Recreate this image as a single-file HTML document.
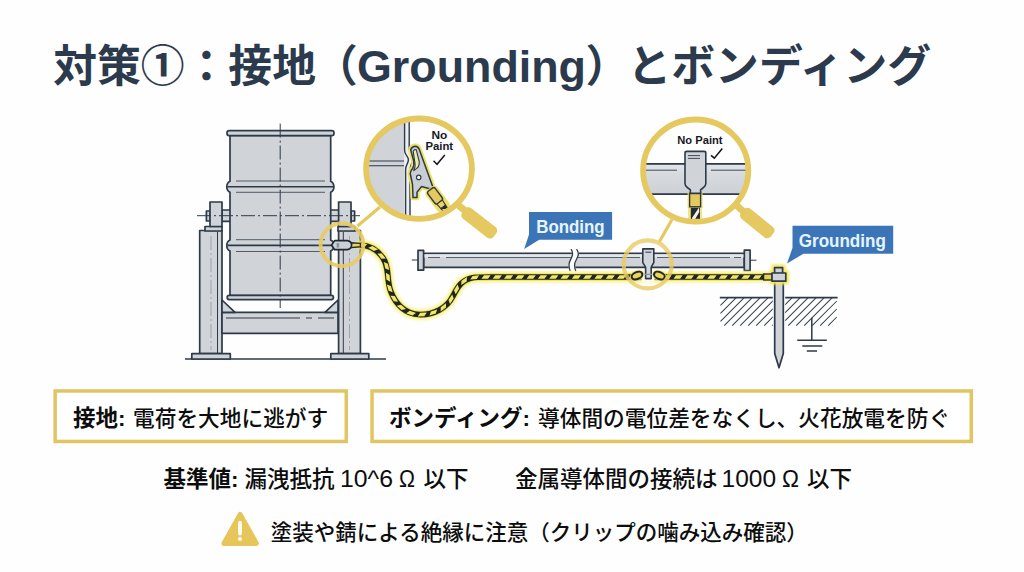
<!DOCTYPE html>
<html lang="ja">
<head>
<meta charset="utf-8">
<title>対策①：接地（Grounding）とボンディング</title>
<style>
html,body{margin:0;padding:0;background:#fefefe;}
body{width:1024px;height:572px;overflow:hidden;position:relative;font-family:"Liberation Sans",sans-serif;}
svg{position:absolute;left:0;top:0;display:block;}
svg text{font-family:"Liberation Sans","Noto Sans CJK JP",sans-serif;}
.sr{position:absolute;left:0;top:0;width:1px;height:1px;overflow:hidden;clip:rect(0 0 0 0);white-space:nowrap;font-size:1px;color:transparent;}
</style>
</head>
<body>
<div class="sr">
<h1>対策①：接地（Grounding）とボンディング</h1>
<p><b>接地:</b> 電荷を大地に逃がす</p>
<p><b>ボンディング:</b> 導体間の電位差をなくし、火花放電を防ぐ</p>
<p><b>基準値:</b> 漏洩抵抗 10^6 Ω 以下　金属導体間の接続は 1000 Ω 以下</p>
<p>塗装や錆による絶縁に注意（クリップの噛み込み確認）</p>
<p>Bonding / Grounding / No Paint</p>
</div>
<svg width="1024" height="572" viewBox="0 0 1024 572">
<rect width="1024" height="572" fill="#fefefe"/>
<g id="boxes">
<rect x="55.15" y="390.95" width="291.1" height="50.5" fill="#fff" stroke="#e1c562" stroke-width="3.5"/>
<rect x="372.05" y="390.95" width="599.2" height="50.5" fill="#fff" stroke="#e1c562" stroke-width="3.5"/>
<path d="M240.1 514.4 L256.4 543.4 L223.9 543.4 Z" fill="#e6c55a" stroke="#e6c55a" stroke-width="5" stroke-linejoin="round"/>
<path d="M240 522.8 L240 533.6" stroke="#fffdf2" stroke-width="3.9" stroke-linecap="round"/><circle cx="240" cy="539" r="2.1" fill="#fffdf2"/>
</g>
<g id="illustration">
<g id="stand" fill="#d0d3d7" stroke="#2d3a49" stroke-width="1.7" stroke-linejoin="round">
<path d="M185 359 H386" fill="none"/>
<rect x="199.7" y="230.5" width="22.3" height="123.2"/>
<rect x="338.6" y="230.5" width="21.8" height="123.2"/>
<rect x="191.8" y="353.7" width="38.5" height="5.3"/>
<rect x="330.8" y="353.7" width="38" height="5.3"/>
<rect x="222" y="312.3" width="116" height="21"/>
<path d="M222 300 L235 312.3 L222 312.3 Z"/>
<path d="M338 300 L325 312.3 L338 312.3 Z"/>
<rect x="205" y="226.5" width="17" height="4.5"/>
<rect x="338" y="226.5" width="17" height="4.5"/>
<rect x="222" y="210" width="9" height="11.4"/>
<rect x="330" y="210" width="9" height="11.4"/>
<rect x="206.4" y="211" width="4" height="10"/>
<rect x="351" y="211" width="3.6" height="10"/>
<rect x="210" y="202" width="12" height="24.5"/>
<rect x="338.6" y="202" width="12.4" height="24.5"/>
</g>
<path d="M217.5 232 V353 M343.3 232 V353 M226 318 H300 M306 318 H312 M318 318 H334" stroke="#2d3a49" stroke-width="1" fill="none"/>
<path d="M230.0 135.5 L230.0 181.3 Q226.8 182.8 226.8 186.8 Q226.8 190.8 230.0 192.3 L230.0 239.9 Q226.8 241.4 226.8 245.4 Q226.8 249.4 230.0 250.9 L230.0 295.5 L330.7 295.5 L330.7 250.9 Q333.9 249.4 333.9 245.4 Q333.9 241.4 330.7 239.9 L330.7 192.3 Q333.9 190.8 333.9 186.8 Q333.9 182.8 330.7 181.3 L330.7 135.5 Z" fill="#d0d3d7" stroke="#2d3a49" stroke-width="1.7" stroke-linejoin="round" stroke-width="1.9"/>
<rect x="227" y="130.6" width="107" height="5" rx="2.2" fill="#d0d3d7" stroke="#2d3a49" stroke-width="1.7" stroke-linejoin="round" stroke-width="1.9"/>
<rect x="227.2" y="295.3" width="106.2" height="4.3" rx="2" fill="#d0d3d7" stroke="#2d3a49" stroke-width="1.7" stroke-linejoin="round" stroke-width="1.9"/>
<path d="M227.5 186.8 H333.2 M227.5 245.4 H333.2" stroke="#2d3a49" stroke-width="1.6" fill="none"/>
<path d="M236 181 H325 M236 192.3 H325 M236 239.7 H325 M236 251.5 H325" stroke="#4a5562" stroke-width="0.95" fill="none"/>
<path d="M280.2 123.6 V308" stroke="#2d3a49" stroke-width="1" stroke-dasharray="14 3 2 3" fill="none"/>
<path d="M197 215.7 H360" stroke="#2d3a49" stroke-width="1" stroke-dasharray="14 3 2 3" fill="none"/>
<path d="M211 236 V350 M349.5 236 V350" stroke="#2d3a49" stroke-width="0.7" stroke-dasharray="14 3 2 3" fill="none" opacity="0.45"/>
<g id="pipe" fill="#d0d3d7" stroke="#2d3a49" stroke-width="1.7" stroke-linejoin="round">
<rect x="423.6" y="253.4" width="320.7" height="14"/>
<rect x="418" y="250.4" width="5.6" height="19.8"/>
<rect x="744.3" y="250.2" width="5.8" height="20.3"/>
</g>
<rect x="424.5" y="254.3" width="319" height="3.2" fill="#e3e6ea"/>
<path d="M428 257.5 H440 M446 257.5 H640 M657 257.5 H730 M734 257.5 H741" stroke="#2d3a49" stroke-width="0.9" fill="none" opacity="0.85"/>
<path d="M571.3 249.6 C572.6 251.5 572.9 253 572.3 255.5 C571.4 259 569 261 569 264.5 C569 267 569.4 269 570 270.6 L575.6 270.6 C575 269 574.6 267.4 574.6 265 C574.6 261.5 577.2 259 578.1 255.5 C578.7 253 578.3 251.5 576.9 249.6 Z" fill="#fefefe" stroke="#fefefe" stroke-width="1.2"/>
<path d="M571.3 249.6 C572.6 251.5 572.9 253 572.3 255.5 C571.4 259 569 261 569 264.5 C569 267 569.4 269 570 270.6 M576.9 249.6 C578.3 251.5 578.7 253 578.1 255.5 C577.2 259 574.6 261.5 574.6 265 C574.6 267.4 575 269 575.6 270.6" fill="none" stroke="#2d3a49" stroke-width="1.3" stroke-linecap="round"/>
<path d="M411.8 260 H418 M750 260.2 H756.5" stroke="#2d3a49" stroke-width="1" fill="none"/>
<filter id="gl" x="-5%" y="-30%" width="110%" height="160%"><feGaussianBlur stdDeviation="1.6"/></filter><filter id="gl2" x="-40%" y="-40%" width="180%" height="180%"><feGaussianBlur stdDeviation="1.1"/></filter>
<path d="M360.5 245 C369 245.4 377 249 383 258 C390 268 386 280 391 292 C396 305 406 314 419 314.5 C434 315 447 308 453 296 C458 286 462 279.5 474 277.5 C480 277 486 277 492 277 L766 277" fill="none" stroke="#f6ee6e" stroke-width="10.4" stroke-linecap="round" filter="url(#gl)" opacity="0.8"/>
<path d="M360.5 245 C369 245.4 377 249 383 258 C390 268 386 280 391 292 C396 305 406 314 419 314.5 C434 315 447 308 453 296 C458 286 462 279.5 474 277.5 C480 277 486 277 492 277 L766 277" fill="none" stroke="#e6dc52" stroke-width="6.8" stroke-linecap="round"/>
<path d="M360.5 245 C369 245.4 377 249 383 258 C390 268 386 280 391 292 C396 305 406 314 419 314.5 C434 315 447 308 453 296 C458 286 462 279.5 474 277.5 C480 277 486 277 492 277 L766 277" fill="none" stroke="#20261f" stroke-width="5.7" stroke-linecap="butt"/>
<path d="M357.7 246.4 L364.3 247.1 L367.3 243.9 L360.7 243.2ZM368.3 247.8 L374.0 251.1 L378.0 249.3 L372.3 246.0ZM377.4 253.4 L381.4 258.7 L385.8 258.6 L381.7 253.4ZM383.8 262.0 L385.3 268.4 L389.3 270.1 L387.8 263.7ZM385.9 272.8 L386.4 279.4 L390.1 281.7 L389.6 275.1ZM386.8 284.4 L388.6 290.8 L392.7 292.3 L390.9 286.0ZM390.4 295.7 L393.8 301.3 L398.1 301.8 L394.7 296.1ZM396.8 305.7 L401.7 310.1 L406.0 309.1 L401.0 304.8ZM406.2 313.3 L412.4 315.4 L416.0 312.9 L409.8 310.8ZM417.7 316.4 L424.3 316.2 L426.8 312.6 L420.2 312.8ZM429.5 315.6 L435.8 313.6 L437.2 309.4 L430.9 311.5ZM440.7 311.5 L446.0 307.6 L446.0 303.3 L440.7 307.2ZM450.0 304.1 L453.7 298.6 L452.2 294.5 L448.5 300.0ZM455.7 294.2 L459.1 288.6 L457.5 284.6 L454.0 290.2ZM461.2 285.1 L466.7 281.5 L467.0 277.1 L461.5 280.7ZM470.2 279.5 L476.8 279.0 L479.1 275.3 L472.6 275.9ZM481.4 278.8 L488.0 278.8 L490.6 275.2 L484.0 275.3ZM492.7 278.8 L499.3 278.8 L501.9 275.2 L495.3 275.2ZM504.0 278.8 L510.6 278.8 L513.2 275.2 L506.6 275.2ZM515.3 278.8 L521.9 278.8 L524.5 275.2 L517.9 275.2ZM526.6 278.8 L533.2 278.8 L535.8 275.2 L529.2 275.2ZM537.9 278.8 L544.5 278.8 L547.1 275.2 L540.5 275.2ZM549.2 278.8 L555.8 278.8 L558.4 275.2 L551.8 275.2ZM560.5 278.8 L567.1 278.8 L569.7 275.2 L563.1 275.2ZM571.8 278.8 L578.4 278.8 L581.0 275.2 L574.4 275.2ZM583.1 278.8 L589.7 278.8 L592.3 275.2 L585.7 275.2ZM594.4 278.8 L601.0 278.8 L603.6 275.2 L597.0 275.2ZM605.7 278.8 L612.3 278.8 L614.9 275.2 L608.3 275.2ZM617.0 278.8 L623.6 278.8 L626.2 275.2 L619.6 275.2ZM628.3 278.8 L634.9 278.8 L637.5 275.2 L630.9 275.2ZM639.6 278.8 L646.2 278.8 L648.8 275.2 L642.2 275.2ZM650.9 278.8 L657.5 278.8 L660.1 275.2 L653.5 275.2ZM662.2 278.8 L668.8 278.8 L671.4 275.2 L664.8 275.2ZM673.5 278.8 L680.1 278.8 L682.7 275.2 L676.1 275.2ZM684.8 278.8 L691.4 278.8 L694.0 275.2 L687.4 275.2ZM696.1 278.8 L702.7 278.8 L705.3 275.2 L698.7 275.2ZM707.4 278.8 L714.0 278.8 L716.6 275.2 L710.0 275.2ZM718.7 278.8 L725.3 278.8 L727.9 275.2 L721.3 275.2ZM730.0 278.8 L736.6 278.8 L739.2 275.2 L732.6 275.2ZM741.3 278.8 L747.9 278.8 L750.5 275.2 L743.9 275.2ZM752.6 278.8 L759.2 278.8 L761.8 275.2 L755.2 275.2Z" fill="#f1e665"/>
<path d="M351 242.7 L360.4 243.4 L360.4 246.8 L351 247.6 Z" fill="#ead05c" stroke="#1f2730" stroke-width="1.4" stroke-linejoin="round"/>
<path d="M331.6 245.1 L334.6 240.6 L347.5 240.6 Q351.6 241.4 351.6 245.1 Q351.6 248.9 347.5 249.7 L334.6 249.7 Z" fill="#ccd1d7" stroke="#1f2730" stroke-width="1.7" stroke-linejoin="round"/>
<rect x="336.6" y="243" width="2.6" height="4.6" fill="#8d949d"/>
<rect x="641.5" y="271.5" width="13" height="11" fill="#fdfbe8"/>
<ellipse cx="637.0" cy="275.6" rx="7.4" ry="5.4" transform="rotate(-22 637.0 275.6)" fill="#efe062" opacity="0.8"/>
<ellipse cx="637.0" cy="275.6" rx="5.6" ry="3.5" transform="rotate(-22 637.0 275.6)" fill="#ecd45a" stroke="#1f2730" stroke-width="2.1"/>
<ellipse cx="659.4" cy="275.6" rx="7.4" ry="5.4" transform="rotate(22 659.4 275.6)" fill="#efe062" opacity="0.8"/>
<ellipse cx="659.4" cy="275.6" rx="5.6" ry="3.5" transform="rotate(22 659.4 275.6)" fill="#ecd45a" stroke="#1f2730" stroke-width="2.1"/>
<path d="M642.8 248.9 H653.8 V262.6 L651.2 267.2 V278.6 H645.6 V267.2 L642.8 262.6 Z" fill="#d0d5db" stroke="#2d3a49" stroke-width="1.6" stroke-linejoin="round"/>
<path d="M645.4 252.2 H651.4" stroke="#2d3a49" stroke-width="1" fill="none" stroke-width="0.8"/>
<path d="M644.6 274.4 H652.4" stroke="#8e959e" stroke-width="1.4" fill="none"/>
<path d="M728.2 297.6 L720.5 305.3 M736.2 297.6 L720.5 313.3 M744.2 297.6 L720.5 321.3 M752.2 297.6 L724.2 325.6 M760.2 297.6 L732.2 325.6 M768.2 297.6 L740.2 325.6 M776.2 297.6 L748.2 325.6 M784.2 297.6 L756.2 325.6 M792.2 297.6 L764.2 325.6 M800.2 297.6 L772.2 325.6 M808.2 297.6 L780.2 325.6 M816.2 297.6 L788.2 325.6 M824.2 297.6 L796.2 325.6 M832.2 297.6 L804.2 325.6 M836.8 301.0 L812.2 325.6 M836.8 309.0 L820.2 325.6 M836.8 317.0 L828.2 325.6" stroke="#3a444f" stroke-width="1.05" fill="none"/>
<path d="M719.8 297.6 H837.6" stroke="#2d3a49" stroke-width="1.7" fill="none"/>
<path d="M774.6 281 V353.5 L779 367.8 L783.4 353.5 V281 Z" fill="#d0d3d7" stroke="#fefefe" stroke-width="3.6" stroke-linejoin="round"/>
<path d="M774.7 281 V353.5 L779 367.8 L783.3 353.5 V281 Z" fill="#d0d3d7" stroke="#2d3a49" stroke-width="1.7" stroke-linejoin="round"/>
<path d="M763 277 H772" stroke="#e5c85f" stroke-width="5" fill="none"/>
<path d="M772 273 H774.4 V267.4 H782.8 V273 H786 V281.2 H772 Z" fill="#f3e85c" stroke="#f3e85c" stroke-width="6.5" stroke-linejoin="round" filter="url(#gl2)" opacity="0.95"/>
<rect x="763.6" y="274" width="8.6" height="6" fill="#ead05c" stroke="#20261f" stroke-width="1.3"/>
<rect x="774.6" y="267.6" width="8" height="6" fill="#d0d3d7" stroke="#2d3a49" stroke-width="1.7" stroke-linejoin="round" stroke-width="1.5"/>
<rect x="772" y="273" width="13.8" height="8.2" fill="#d0d3d7" stroke="#2d3a49" stroke-width="1.7" stroke-linejoin="round" stroke-width="1.6"/>
<path d="M811.8 317.7 V340 M797.3 340.2 H826.8 M802.3 345.9 H822.3 M806.8 351.1 H817" stroke="#2d3a49" stroke-width="1.5" fill="none"/>
<path d="M529 212.1 H612.1 V239.8 H539.2 L524.2 249 L529 234.6 Z" fill="#3c75b7"/>
<text x="536.2" y="232.9" font-size="18.4" font-weight="700" fill="#e6f5fd" textLength="68.5" lengthAdjust="spacingAndGlyphs">Bonding</text>
<path d="M792.5 225.7 H893.2 V253.7 H803.5 L787 263.5 L792.5 247.8 Z" fill="#3c75b7"/>
<text x="798.8" y="246.5" font-size="18" font-weight="700" fill="#e6f5fd" textLength="87" lengthAdjust="spacingAndGlyphs">Grounding</text>
<circle cx="342" cy="244.7" r="21.4" fill="none" stroke="#e8cb62" stroke-width="3.9" opacity="0.9"/>
<path d="M357.5 226 L380 207" stroke="#e5c85f" stroke-width="3.2" fill="none"/>
<circle cx="647.7" cy="264.4" r="24" fill="none" stroke="#e8cb62" stroke-width="4.1" opacity="0.8"/>
<path d="M659.5 241.5 L672 219.5" stroke="#e5c85f" stroke-width="3.2" fill="none"/>
<clipPath id="m1"><ellipse cx="419.0" cy="168.7" rx="51" ry="48.4"/></clipPath>
<path d="M455 202.5 L469 214" stroke="#e5c85f" stroke-width="7" fill="none"/>
<rect x="-19.8" y="-6.7" width="39.6" height="13.4" rx="4.4" transform="translate(479.3 222.9) rotate(38)" fill="#e5c85f"/>
<ellipse cx="419.0" cy="168.7" rx="51" ry="48.8" fill="#fefefe"/>
<g clip-path="url(#m1)">
<rect x="360" y="110" width="44.5" height="120" fill="#d0d3d7"/>
<rect x="404.5" y="110" width="5.7" height="120" fill="#eceef1"/>
<path d="M360 161 H404 M360 165.7 H404" stroke="#2d3a49" stroke-width="1.1" fill="none"/>
<path d="M404.6 110 V150.5 C404.6 155 408.4 156 408.4 159.8 C408.4 163.5 405.6 165 405.6 169.5 V230" stroke="#2d3a49" stroke-width="1.4" fill="none"/>
<path d="M409.2 110 V148 C409.2 153 412.4 155 412.4 159.5 C412.4 163.5 410 165.5 410 170.5 V230" stroke="#2d3a49" stroke-width="1.4" fill="none"/>
<path d="M410.7 149.8 Q411.5 146.6 415.1 146.2 Q418 146.2 419.2 149.2 L433.3 188.2 L429 188.6 L421.4 186.6 L417 192.2 L417 197.6 L413 197.6 L412.5 184.4 L410.2 173.5 Q410.3 170.5 412.6 168.6 Q414.6 165 413.6 160.5 Z" fill="#efe062" stroke="#efe062" stroke-width="5.2" stroke-linejoin="round"/>
<path d="M410.7 149.8 Q411.5 146.6 415.1 146.2 Q418 146.2 419.2 149.2 L433.3 188.2 L429 188.6 L421.4 186.6 L417 192.2 L417 197.6 L413 197.6 L412.5 184.4 L410.2 173.5 Q410.3 170.5 412.6 168.6 Q414.6 165 413.6 160.5 Z" fill="#c9ced5" stroke="#2d3a49" stroke-width="1.5" stroke-linejoin="round"/>
<path d="M413.2 151.2 Q414.2 149 416.3 149.8 L419.2 161.5 Q419.6 166 416.8 168.4 L413.8 170.6 Q416 166 414.6 160.8 Z" fill="#f2eaa8" stroke="#2d3a49" stroke-width="1.1" stroke-linejoin="round"/>
<circle cx="418.7" cy="177.4" r="2.2" fill="#fefefe" stroke="#2d3a49" stroke-width="1.2"/>
<g transform="translate(436.4 197.6) rotate(53)">
<rect x="-10" y="-5.4" width="24" height="10.8" rx="2.5" fill="#efe062" stroke="#efe062" stroke-width="3.4"/>
<rect x="-10" y="-4.6" width="15.5" height="9.2" rx="2.2" fill="#e5c85f" stroke="#2d3a49" stroke-width="1.4"/>
<path d="M5.5 -3.4 L11.5 -2.8 L11.5 3 L5.5 3.6 Z" fill="#ecd462" stroke="#2d3a49" stroke-width="1.1" stroke-linejoin="round"/>
<path d="M11.5 -2.8 L17 -2.4 L17 2.6 L11.5 3 Z" fill="#222a33" stroke="#2d3a49" stroke-width="1.1" stroke-linejoin="round"/>
<path d="M12.5 2.2 L16.4 -1.8 L16.4 0.4 L14 2.4 Z" fill="#e9e2b0"/>
</g>
</g>
<ellipse cx="419.0" cy="168.7" rx="52.9" ry="50.2" fill="none" stroke="#e5c85f" stroke-width="5.8"/>
<text x="431.5" y="138.9" font-size="10.6" font-weight="700" fill="#15191f" textLength="15.8" lengthAdjust="spacingAndGlyphs">No</text>
<text x="425.4" y="150.3" font-size="10.6" font-weight="700" fill="#15191f" textLength="27.7" lengthAdjust="spacingAndGlyphs">Paint</text>
<path d="M433.5 160.8 L437 164.3 L444.8 155.1" stroke="#15191f" stroke-width="1.5" fill="none"/>
<clipPath id="m2"><ellipse cx="695.7" cy="170.6" rx="50.8" ry="49.3"/></clipPath>
<path d="M732 201 L747 215" stroke="#e5c85f" stroke-width="7" fill="none"/>
<rect x="-19.05" y="-6.7" width="38.1" height="13.4" rx="4.4" transform="translate(757.3 223) rotate(38.7)" fill="#e5c85f"/>
<ellipse cx="695.7" cy="170.6" rx="51" ry="48.8" fill="#fefefe"/>
<g clip-path="url(#m2)">
<linearGradient id="pg" x1="0" y1="0" x2="0" y2="1"><stop offset="0" stop-color="#e2e5e9"/><stop offset="0.35" stop-color="#d6d9dd"/><stop offset="1" stop-color="#cdd0d4"/></linearGradient>
<rect x="640" y="163.9" width="112" height="30.2" fill="url(#pg)"/>
<path d="M640 163.9 H752 M640 194.1 H752" stroke="#2d3a49" stroke-width="1.6" fill="none"/>
<path d="M640 170.2 H677 M711 170.2 H752" stroke="#2d3a49" stroke-width="0.9" fill="none"/>
<rect x="688" y="205" width="14" height="22" fill="#efe062" opacity="0.8"/>
<rect x="690.8" y="206" width="9.2" height="20" fill="#222a33"/>
<path d="M692 218 L699 207.5 L699.3 212 L692.3 224 Z" fill="#f4f1e6"/>
<rect x="687.6" y="192" width="15" height="16" fill="#efe062" opacity="0.85"/>
<rect x="689.6" y="193.2" width="11" height="13.6" fill="#e5c85f" stroke="#2d3a49" stroke-width="1.4"/>
<path d="M685 153 Q685 151.4 686.8 151.4 H704 Q705.8 151.4 705.8 153 V183.5 Q705.8 186 703.5 187.5 L700.6 189.8 V193.4 H690.4 V189.8 L687.3 187.5 Q685 186 685 183.5 Z" fill="#d0d3d7" stroke="#2d3a49" stroke-width="1.6" stroke-linejoin="round"/>
<path d="M688 155.6 H700 M688 158.4 H700" stroke="#2d3a49" stroke-width="0.9" fill="none"/>
</g>
<ellipse cx="695.7" cy="170.6" rx="52.6" ry="51.1" fill="none" stroke="#e5c85f" stroke-width="5.8"/>
<text x="677.3" y="144" font-size="11.6" font-weight="700" fill="#15191f" textLength="45.3" lengthAdjust="spacingAndGlyphs">No Paint</text>
<path d="M711 155.3 L714.3 158.2 L722.3 148.6" stroke="#15191f" stroke-width="1.6" fill="none"/>
</g>
<g id="texts">
<text x="53.2" y="82.1" font-size="43.8" font-weight="700" fill="#2b3a4d">対策①：接地</text>
<text x="314" y="82.1" font-size="43.8" font-weight="700" fill="#2b3a4d">（</text>
<text x="357" y="82.1" font-size="43.8" font-weight="700" fill="#2b3a4d" textLength="229" lengthAdjust="spacingAndGlyphs">Grounding</text>
<text x="585.6" y="82.1" font-size="43.8" font-weight="700" fill="#2b3a4d">）</text>
<text x="627.5" y="82.1" font-size="43.8" font-weight="700" fill="#2b3a4d">とボンディング</text>
<text x="73" y="426" font-size="22.5" font-weight="700" fill="#0d0d0d">接地:</text>
<text x="133" y="426" font-size="21.7" font-weight="500" fill="#0d0d0d">電荷を大地に逃がす</text>
<text x="389" y="426" font-size="22.5" font-weight="700" fill="#0d0d0d">ボンディング:</text>
<text x="538" y="426" font-size="21.7" font-weight="500" fill="#0d0d0d">導体間の電位差をなくし、火花放電を防ぐ</text>
<text x="163.5" y="487" font-size="22.5" font-weight="700" fill="#0d0d0d">基準値:</text>
<text x="244.5" y="487" font-size="22.5" font-weight="500" fill="#0d0d0d">漏洩抵抗</text>
<text x="340" y="486.9" font-size="24" font-weight="500" fill="#0d0d0d" textLength="53" lengthAdjust="spacingAndGlyphs">10^6</text>
<text x="399" y="486.9" font-size="23" font-weight="500" fill="#0d0d0d" textLength="16" lengthAdjust="spacingAndGlyphs">Ω</text>
<text x="423.5" y="487" font-size="22.5" font-weight="500" fill="#0d0d0d">以下</text>
<text x="515" y="487" font-size="22.5" font-weight="500" fill="#0d0d0d">金属導体間の接続は</text>
<text x="721.5" y="486.9" font-size="24" font-weight="500" fill="#0d0d0d" textLength="54.5" lengthAdjust="spacingAndGlyphs">1000</text>
<text x="782" y="486.9" font-size="23" font-weight="500" fill="#0d0d0d" textLength="17" lengthAdjust="spacingAndGlyphs">Ω</text>
<text x="807" y="487" font-size="22.5" font-weight="500" fill="#0d0d0d">以下</text>
<text x="270.8" y="540" font-size="21.5" font-weight="500" fill="#0d0d0d">塗装や錆による絶縁に注意（クリップの噛み込み確認）</text>
</g>
</svg>
</body>
</html>
